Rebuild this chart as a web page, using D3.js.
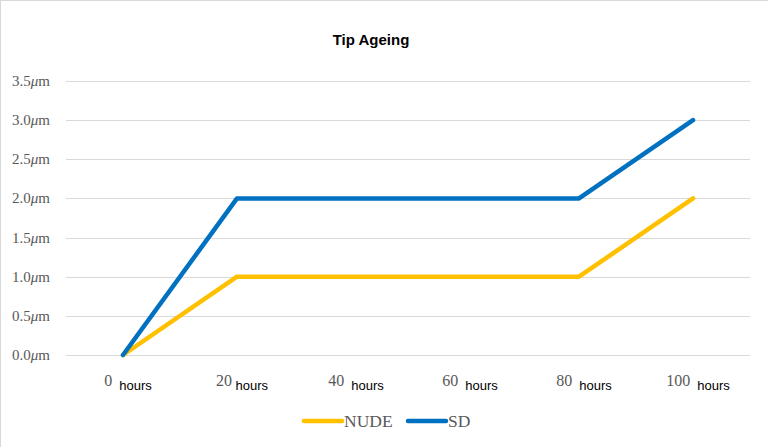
<!DOCTYPE html>
<html><head><meta charset="utf-8">
<script src="https://cdn.jsdelivr.net/npm/d3@7"></script>
<style>body{margin:0;background:#fff}</style>
</head><body>
<svg id="c" width="768" height="447"></svg>
<script>
const categories = ["0", "20", "40", "60", "80", "100"];
const unitLabel = "hours";
const seriesNames = ["NUDE", "SD"];
const nudeValues = [0, 1, 1, 1, 1, 2];
const sdValues = [0, 2, 2, 2, 2, 3];
const yTicks = [0, 0.5, 1, 1.5, 2, 2.5, 3, 3.5];
const colors = ["#FFC000", "#0070C0"];

(function(){
const svg = d3.select("#c");
svg.append("rect").attr("x",0).attr("y",0).attr("width",768).attr("height",447).attr("fill","#fff");
svg.append("line").attr("x1",0.5).attr("x2",0.5).attr("y1",0).attr("y2",447).attr("stroke","#d9d9d9");
svg.append("line").attr("x1",0).attr("x2",768).attr("y1",0.5).attr("y2",0.5).attr("stroke","#d9d9d9");

const pLeft = 66, pRight = 750, pTop = 81, pBottom = 355;
const x = d3.scaleBand().domain(categories).range([pLeft, pRight]);
const y = d3.scaleLinear().domain([0, 3.5]).range([pBottom, pTop]);

svg.append("g").selectAll("line").data(yTicks).join("line")
  .attr("x1", pLeft).attr("x2", pRight)
  .attr("y1", d => Math.round(y(d)) + 0.5).attr("y2", d => Math.round(y(d)) + 0.5)
  .attr("stroke", "#d9d9d9").attr("stroke-width", 1);

const yl = svg.append("g").selectAll("text").data(yTicks).join("text")
  .attr("x", 50).attr("y", d => y(d) + 5)
  .attr("text-anchor", "end")
  .attr("font-family", "'Liberation Serif', serif")
  .attr("font-size", 15).attr("fill", "#595959");
yl.append("tspan").text(d => d.toFixed(1));
yl.append("tspan").attr("font-style","italic").text("μ");
yl.append("tspan").text("m");

const xl = svg.append("g").selectAll("text").data(categories).join("text")
  .attr("x", d => x(d) + x.bandwidth()/2 + 5)
  .attr("y", 386)
  .attr("text-anchor", "middle");
xl.append("tspan").attr("font-family","'Liberation Serif', serif").attr("font-size",16).attr("fill","#595959")
  .text(d => d);
xl.append("tspan").attr("font-family","'Liberation Sans', Arial, sans-serif").attr("font-size",13).attr("fill","#000")
  .attr("dy", 4).text(d => (d === "20" ? "\u00a0" : "\u00a0\u00a0") + unitLabel);

const series = [nudeValues, sdValues];
const line = d3.line().x((d, i) => x(categories[i]) + x.bandwidth()/2).y(d => y(d));
series.forEach((vals, i) => {
  svg.append("path").datum(vals).attr("d", line)
    .attr("fill", "none").attr("stroke", colors[i]).attr("stroke-width", 4.5)
    .attr("stroke-linejoin", "round").attr("stroke-linecap", "round");
});

svg.append("text").attr("x", 371).attr("y", 45).attr("text-anchor", "middle")
  .attr("font-family", "'Liberation Sans', Arial, sans-serif").attr("font-weight", "bold")
  .attr("font-size", 15).attr("fill", "#000").text("Tip Ageing");

const legX = [304, 408];
seriesNames.forEach((n, i) => {
  svg.append("line").attr("x1", legX[i]).attr("x2", legX[i] + 38).attr("y1", 421).attr("y2", 421)
    .attr("stroke", colors[i]).attr("stroke-width", 4.5).attr("stroke-linecap", "round");
  svg.append("text").attr("x", legX[i] + 40).attr("y", 427)
    .attr("font-family", "'Liberation Serif', serif").attr("font-size", 17.5).attr("fill", "#595959").text(n);
});
})();
</script>
</body></html>
